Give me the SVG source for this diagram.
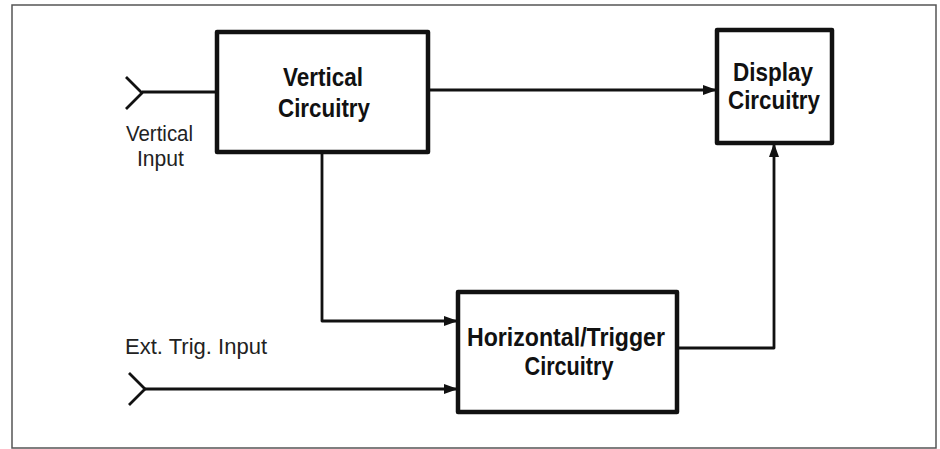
<svg xmlns="http://www.w3.org/2000/svg" width="940" height="449" viewBox="0 0 940 449">
<style>
.box{fill:#fff;stroke:#111;stroke-width:4.5;stroke-linejoin:round}
.ln{fill:none;stroke:#111;stroke-width:2.8;stroke-linejoin:round}
.bt{font-family:"Liberation Sans",Arial,sans-serif;font-weight:bold;font-size:25px;fill:#111;text-anchor:middle}
.lt{font-family:"Liberation Sans",Arial,sans-serif;font-size:22px;fill:#222}
</style>
<defs>
<marker id="ah" viewBox="0 0 14 10" refX="14" refY="5" markerWidth="14" markerHeight="10" markerUnits="userSpaceOnUse" orient="auto">
<path d="M0,0 L14,5 L0,10 Z" fill="#111"/>
</marker>
</defs>
<rect x="0" y="0" width="940" height="449" fill="#fff"/>
<rect x="12" y="5" width="924" height="443" fill="none" stroke="#555" stroke-width="1.5"/>
<g id="connectors">
<path class="ln" d="M126,77 L142,93 L126,109"/>
<path class="ln" d="M142,92 L217,92"/>
<path class="ln" d="M428,90 L717,90" marker-end="url(#ah)"/>
<path class="ln" d="M322,152 L322,321 L458,321" marker-end="url(#ah)"/>
<path class="ln" d="M129,373 L145,389 L129,405"/>
<path class="ln" d="M145,389 L458,389" marker-end="url(#ah)"/>
<path class="ln" d="M677,348 L774,348 L774,143" marker-end="url(#ah)"/>
</g>
<g id="vertical-input">
<text class="lt" x="126" y="141" textLength="67" lengthAdjust="spacingAndGlyphs">Vertical</text>
<text class="lt" x="137" y="166" textLength="47" lengthAdjust="spacingAndGlyphs">Input</text>
</g>
<g id="ext-trig-input">
<text class="lt" x="125" y="354" textLength="142" lengthAdjust="spacingAndGlyphs">Ext.  Trig.  Input</text>
</g>
<g id="vertical-circuitry">
<rect class="box" x="217" y="32" width="211" height="120"/>
<text class="bt" x="323" y="86" textLength="80" lengthAdjust="spacingAndGlyphs">Vertical</text>
<text class="bt" x="324" y="117" textLength="92" lengthAdjust="spacingAndGlyphs">Circuitry</text>
</g>
<g id="display-circuitry">
<rect class="box" x="717" y="30" width="115" height="113"/>
<text class="bt" x="773" y="81" textLength="80" lengthAdjust="spacingAndGlyphs">Display</text>
<text class="bt" x="774" y="109" textLength="92" lengthAdjust="spacingAndGlyphs">Circuitry</text>
</g>
<g id="horizontal-trigger-circuitry">
<rect class="box" x="458" y="292" width="219" height="120"/>
<text class="bt" x="566" y="346" textLength="198" lengthAdjust="spacingAndGlyphs">Horizontal/Trigger</text>
<text class="bt" x="569" y="375" textLength="89" lengthAdjust="spacingAndGlyphs">Circuitry</text>
</g>
</svg>
